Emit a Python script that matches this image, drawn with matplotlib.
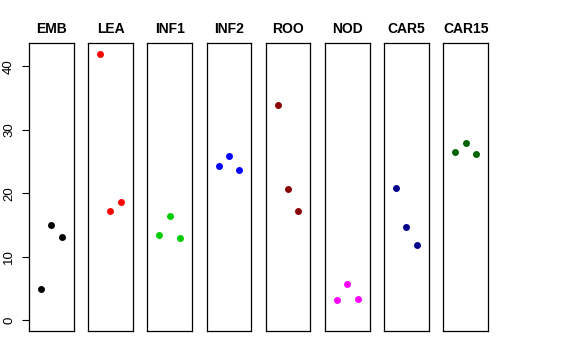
import numpy as np
import matplotlib
matplotlib.use('Agg')
import matplotlib.pyplot as plt

plt.rcParams['font.family'] = ['Liberation Sans', 'DejaVu Sans']

groups = ['EMB', 'LEA', 'INF1', 'INF2', 'ROO', 'NOD', 'CAR5', 'CAR15']
colors = ['#000000', '#FF0000', '#00CD00', '#0000FF', '#8B0000', '#FF00FF', '#00008B', '#006400']
reps = [1, 2, 3]

emb = [5.0, 15.0, 13.2]
lea = [42.0, 17.2, 18.7]
inf1 = [13.4, 16.5, 12.9]
inf2 = [24.3, 25.9, 23.6]
roo = [33.9, 20.7, 17.2]
nod = [3.15, 5.67, 3.35]
car5 = [20.8, 14.7, 11.8]
car15 = [26.5, 28.0, 26.2]
values = [emb, lea, inf1, inf2, roo, nod, car5, car15]

yTicks = [0, 10, 20, 30, 40]

W = 576
H = 360
fig = plt.figure(figsize=(W/100, H/100), dpi=100)

panelLeft = 29
panelStep = 59.2
panelWidth = 44.5
panelTop = 43
panelBottom = 331

ymin, ymax = 0, 42
pad = 0.04*(ymax - ymin)

for ii in range(len(groups)):
    left = panelLeft + ii*panelStep
    ax = fig.add_axes([left/W, (H - panelBottom)/H, panelWidth/W, (panelBottom - panelTop)/H])
    ax.plot(reps, values[ii], 'o', color=colors[ii], markersize=5, markeredgewidth=0)
    ax.set_xlim(-0.16, 4.16)
    ax.set_ylim(ymin - pad, ymax + pad)
    ax.set_xticks([])
    ax.set_title(groups[ii], fontsize=10, fontweight='bold', pad=7)
    for sp in ax.spines.values():
        sp.set_linewidth(0.9)
        sp.set_color('black')
    if ii == 0:
        ax.set_yticks(yTicks)
        ax.set_yticklabels([str(t) for t in yTicks], rotation=90, va='center', fontsize=9.5)
        ax.tick_params(axis='y', length=5, width=0.8, pad=5)
    else:
        ax.set_yticks([])

fig.savefig('out.png', dpi=100)
